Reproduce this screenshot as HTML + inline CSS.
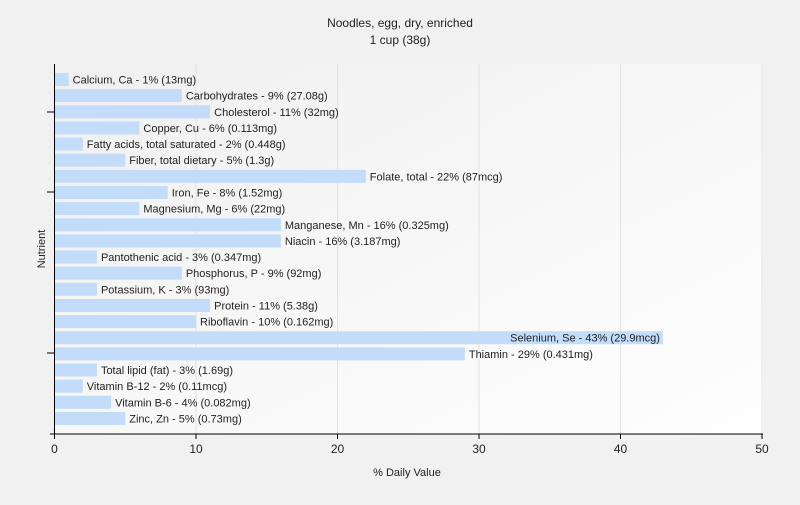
<!DOCTYPE html>
<html><head><meta charset="utf-8"><style>
body{margin:0;background:#f1f1f1;font-family:"Liberation Sans",sans-serif}
</style></head><body>
<svg width="800" height="500" xmlns="http://www.w3.org/2000/svg">
<defs><linearGradient id="bg" x1="0" x2="1" y1="0" y2="1"><stop offset="0" stop-color="#f0f0f0"/><stop offset="1" stop-color="#fefefe"/></linearGradient></defs>
<rect width="800" height="500" fill="#f1f1f1"/>
<text x="400" y="27" font-size="12" text-anchor="middle" fill="#222">Noodles, egg, dry, enriched</text>
<text x="400" y="44" font-size="12" text-anchor="middle" fill="#222">1 cup (38g)</text>
<rect x="55" y="64" width="708" height="370" fill="url(#bg)"/>
<g id="grid"></g><g id="bars"></g><g id="axes"></g>
<text x="407" y="476" font-size="11" text-anchor="middle" fill="#222">% Daily Value</text>
<text transform="translate(45,249) rotate(-90)" font-size="11" text-anchor="middle" fill="#222">Nutrient</text>
</svg>
<script>
const names=["Calcium, Ca","Carbohydrates","Cholesterol","Copper, Cu","Fatty acids, total saturated","Fiber, total dietary","Folate, total","Iron, Fe","Magnesium, Mg","Manganese, Mn","Niacin","Pantothenic acid","Phosphorus, P","Potassium, K","Protein","Riboflavin","Selenium, Se","Thiamin","Total lipid (fat)","Vitamin B-12","Vitamin B-6","Zinc, Zn"];
const values=[1,9,11,6,2,5,22,8,6,16,16,3,9,3,11,10,43,29,3,2,4,5];
const amounts=["13mg","27.08g","32mg","0.113mg","0.448g","1.3g","87mcg","1.52mg","22mg","0.325mg","3.187mg","0.347mg","92mg","93mg","5.38g","0.162mg","29.9mcg","0.431mg","1.69g","0.11mcg","0.082mg","0.73mg"];
const xTicks=[0,10,20,30,40,50];
const NS="http://www.w3.org/2000/svg";
const x=v=>54.5+v*14.15;
const y=i=>79.5+i*16.14;
function mk(t,a,p){const e=document.createElementNS(NS,t);for(const k in a)e.setAttribute(k,a[k]);p.appendChild(e);return e;}
const g=document.getElementById('grid'),b=document.getElementById('bars'),ax=document.getElementById('axes');
xTicks.forEach(t=>{
 if(t>0){const l=mk('line',{x1:x(t),x2:x(t),y1:64,y2:434,stroke:'#e2e2e2'},g);
 
 }
 const tk=mk('line',{x1:x(t),x2:x(t),y1:434,y2:439,stroke:'#000'},ax);
 
 
 const tx=mk('text',{x:x(t),y:453,'font-size':12,'text-anchor':'middle',fill:'#222'},ax);
 tx.textContent=t;
 
 
});
names.forEach((n,i)=>{
 const r=mk('rect',{x:55,y:y(i)-6.5,width:x(values[i])-55,height:13,fill:'#c2dcfa'},b);
 
 
 const t=mk('text',{x:x(values[i])+4,y:y(i)+4,'font-size':11,fill:'#222'},b);
 t.textContent=n+' - '+values[i]+'% ('+amounts[i]+')';
 
 
 if(x(values[i])+4+t.getComputedTextLength()>795){t.setAttribute('x',x(values[i])-3);t.setAttribute('text-anchor','end');}
});
const ya=mk('line',{x1:54.5,x2:54.5,y1:64,y2:434,stroke:'#000'},ax);


const xa=mk('line',{x1:50,x2:763,y1:434,y2:434,stroke:'#000'},ax);


[112,192,353].forEach((yy,i)=>{const l=mk('line',{x1:47,x2:54.5,y1:yy,y2:yy,stroke:'#000'},ax);
 
 });
</script>
</body></html>
